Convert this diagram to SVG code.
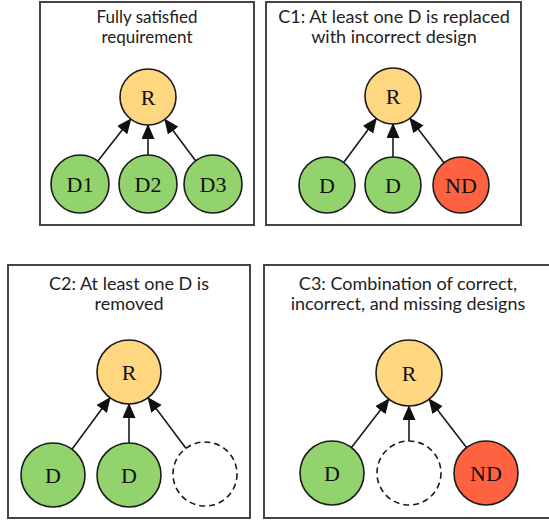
<svg xmlns="http://www.w3.org/2000/svg" width="549" height="521" viewBox="0 0 549 521">
<style>
.panel{fill:#fff;stroke:#444;stroke-width:2}
.title{font-family:Lato,"Liberation Sans",sans-serif;font-size:18px;fill:#222;text-anchor:middle}
.t1{font-size:17px}
.node circle{stroke:#1a1a1a;stroke-width:1.6}
.r{fill:#FFD780}
.g{fill:#92D36E}
.nd{fill:#FF6240}
.miss{fill:#fff;stroke-dasharray:6,4}
.lbl{font-family:"Liberation Serif",serif;font-size:22px;fill:#111;text-anchor:middle}
.edge{stroke:#1a1a1a;stroke-width:1.6;fill:none;marker-end:url(#ah)}
</style>
<defs>
<marker id="ah" markerUnits="userSpaceOnUse" markerWidth="17" markerHeight="15" refX="14" refY="6.5" orient="auto">
<path d="M0,0 L15,6.5 L0,13 z" fill="#111"/>
</marker>
</defs>
<rect width="549" height="521" fill="#fff"/>
<g id="panels">
<rect class="panel" x="40" y="2" width="214" height="223"/>
<rect class="panel" x="266" y="2" width="255" height="223"/>
<rect class="panel" x="8" y="265" width="242" height="253"/>
<rect class="panel" x="264" y="265" width="290" height="253"/>
</g>
<g id="titles">
<text class="title t1" x="147" y="23">Fully satisfied</text>
<text class="title t1" x="147" y="43">requirement</text>
<text class="title" x="394" y="23">C1: At least one D is replaced</text>
<text class="title" x="394" y="43">with incorrect design</text>
<text class="title" x="129" y="290">C2: At least one D is</text>
<text class="title" x="129" y="310">removed</text>
<text class="title" x="408" y="290">C3: Combination of correct,</text>
<text class="title" x="408" y="310">incorrect, and missing designs</text>
</g>
<g id="connectors">
<line class="edge" x1="97.9" y1="161.1" x2="130.8" y2="119.1"/>
<line class="edge" x1="148" y1="155" x2="148" y2="125"/>
<line class="edge" x1="195.6" y1="160.8" x2="164.8" y2="119.4"/>
<line class="edge" x1="343.7" y1="162.5" x2="376.3" y2="118.5"/>
<line class="edge" x1="393" y1="157" x2="393" y2="124"/>
<line class="edge" x1="444" y1="162.7" x2="410" y2="118.3"/>
<line class="edge" x1="72" y1="449.2" x2="110" y2="397.8"/>
<line class="edge" x1="129" y1="443" x2="129" y2="404"/>
<line class="edge" x1="185.9" y1="448.3" x2="148.1" y2="397.7"/>
<line class="edge" x1="351.5" y1="447.6" x2="388.9" y2="399.1"/>
<line class="edge" x1="409" y1="441" x2="409" y2="406"/>
<line class="edge" x1="466.5" y1="447.6" x2="429.1" y2="399.1"/>
</g>
<g id="p1-R" class="node"><circle class="r" cx="148" cy="97" r="28"/><text class="lbl" x="148" y="104.5">R</text></g>
<g id="p1-D1" class="node"><circle class="g" cx="80" cy="184" r="29"/><text class="lbl" x="80" y="191.5">D1</text></g>
<g id="p1-D2" class="node"><circle class="g" cx="148" cy="184" r="29"/><text class="lbl" x="148" y="191.5">D2</text></g>
<g id="p1-D3" class="node"><circle class="g" cx="213" cy="184" r="29"/><text class="lbl" x="213" y="191.5">D3</text></g>
<g id="p2-R" class="node"><circle class="r" cx="393" cy="96" r="28"/><text class="lbl" x="393" y="103.5">R</text></g>
<g id="p2-D1" class="node"><circle class="g" cx="327" cy="185" r="28"/><text class="lbl" x="327" y="192.5">D</text></g>
<g id="p2-D2" class="node"><circle class="g" cx="393" cy="185" r="28"/><text class="lbl" x="393" y="192.5">D</text></g>
<g id="p2-ND" class="node"><circle class="nd" cx="461" cy="185" r="28"/><text class="lbl" x="461" y="192.5">ND</text></g>
<g id="p3-R" class="node"><circle class="r" cx="129" cy="372" r="32"/><text class="lbl" x="129" y="379.5">R</text></g>
<g id="p3-D1" class="node"><circle class="g" cx="53" cy="475" r="32"/><text class="lbl" x="53" y="482.5">D</text></g>
<g id="p3-D2" class="node"><circle class="g" cx="129" cy="475" r="32"/><text class="lbl" x="129" y="482.5">D</text></g>
<g id="p3-missing" class="node"><circle class="miss" cx="205" cy="474" r="32"/></g>
<g id="p4-R" class="node"><circle class="r" cx="409" cy="373" r="33"/><text class="lbl" x="409" y="380.5">R</text></g>
<g id="p4-D" class="node"><circle class="g" cx="332" cy="473" r="32"/><text class="lbl" x="332" y="480.5">D</text></g>
<g id="p4-missing" class="node"><circle class="miss" cx="409" cy="473" r="32"/></g>
<g id="p4-ND" class="node"><circle class="nd" cx="486" cy="473" r="32"/><text class="lbl" x="486" y="480.5">ND</text></g>
</svg>
